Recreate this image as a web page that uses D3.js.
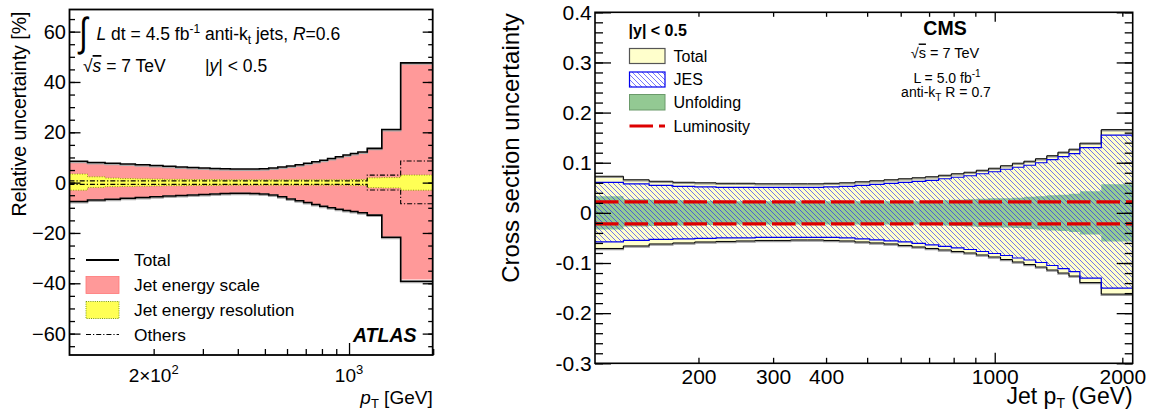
<!DOCTYPE html>
<html><head><meta charset="utf-8">
<script src="https://cdn.jsdelivr.net/npm/d3@7"></script>
<style>
body{margin:0;background:#fff}
text{font-family:"Liberation Sans",Arial,Helvetica,sans-serif;fill:#000}
</style>
</head><body>
<svg id="c" width="1150" height="412"></svg>
<script>
// ---------------- ATLAS (left) data ----------------
const atlasEdges = [100,116,134,152,172,194,216,240,264,290,318,346,376,408,442,478,516,556,598,642,688,736,786,838,894,952,1012,1076,1162,1310,1530,1992];
const atlasTotalUp   = [8.5,8.0,7.7,7.4,7.1,6.8,6.5,6.2,6.0,5.8, 5.6,5.5,5.4,5.4,5.4,5.5,5.8,6.2,6.6,7.1, 7.7,8.3,8.9,9.6,10.3,11.0,11.6,12.2,13.6,21.1, 47.6];
const atlasTotalDown = [-7.5,-6.9,-6.6,-6.2,-5.9,-5.6,-5.3,-5.1,-4.9,-4.7, -4.5,-4.3,-4.2,-4.2,-4.3,-4.5,-4.9,-5.6,-6.5,-7.2, -7.9,-8.7,-9.4,-10.0,-10.6,-11.1,-11.5,-12.0,-12.9,-21.7, -39.2];
const atlasJesUp     = [8.3,7.8,7.5,7.2,6.9,6.6,6.3,6.0,5.8,5.6, 5.4,5.3,5.2,5.2,5.2,5.3,5.6,6.0,6.4,6.9, 7.5,8.1,8.7,9.4,10.1,10.8,11.4,12.0,13.4,20.9, 47.1];
const atlasJesDown   = [-7.3,-6.7,-6.4,-6.0,-5.7,-5.4,-5.1,-4.9,-4.7,-4.5, -4.3,-4.1,-4.0,-4.0,-4.1,-4.3,-4.7,-5.4,-6.3,-7.0, -7.7,-8.5,-9.2,-9.8,-10.4,-10.9,-11.3,-11.8,-12.7,-21.5, -38.5];
const atlasJerUp     = [3.4,2.3,1.8,1.6,1.5,1.4,1.3,1.3,1.2,1.2, 1.2,1.1,1.1,1.1,1.1,1.1,1.1,1.1,1.1,1.1, 1.1,1.1,1.1,1.1,1.1,1.1,1.2,1.2,1.9,2.0, 3.0];
const atlasJerDown   = [-3.0,-1.9,-1.6,-1.5,-1.4,-1.3,-1.2,-1.2,-1.1,-1.1, -1.1,-1.0,-1.0,-1.0,-1.0,-1.0,-1.0,-1.0,-1.0,-1.0, -1.0,-1.0,-1.0,-1.0,-1.0,-1.0,-1.1,-1.1,-2.0,-2.1, -3.0];
const atlasOthUp     = [0.7,0.7,0.7,0.7,0.7,0.7,0.7,0.7,0.7,0.7, 0.7,0.7,0.7,0.7,0.7,0.7,0.7,0.7,0.7,0.7, 0.7,0.7,0.7,0.7,0.7,0.7,0.7,0.7,3.0,3.0, 8.6];
const atlasOthDown   = [-0.7,-0.7,-0.7,-0.7,-0.7,-0.7,-0.7,-0.7,-0.7,-0.7, -0.7,-0.7,-0.7,-0.7,-0.7,-0.7,-0.7,-0.7,-0.7,-0.7, -0.7,-0.7,-0.7,-0.7,-0.7,-0.7,-0.7,-0.7,-2.9,-2.9, -8.4];
const atlasYMajor = [-60,-40,-20,0,20,40,60];
const atlasXMinor = [200,300,400,500,600,700,800,900,2000];
const atlasXMajor = [1000];

// ---------------- CMS (right) data ----------------
const cmsEdges = [114,133,153,174,196,220,245,272,300,330,362,395,430,468,507,548,592,638,686,737,790,846,905,967,1032,1101,1172,1248,1327,1410,1497,1588,1784,2116];
const cmsTotalUp   = [0.073,0.066,0.063,0.061,0.060,0.059,0.059,0.058,0.058,0.058, 0.058,0.059,0.060,0.062,0.064,0.066,0.068,0.070,0.072,0.075, 0.078,0.081,0.085,0.089,0.094,0.099,0.103,0.108,0.114,0.121, 0.127,0.139,0.166];
const cmsTotalDown = [-0.071,-0.066,-0.062,-0.060,-0.058,-0.057,-0.056,-0.055,-0.055,-0.054, -0.054,-0.055,-0.056,-0.058,-0.060,-0.062,-0.065,-0.068,-0.071,-0.074, -0.077,-0.080,-0.084,-0.088,-0.093,-0.098,-0.103,-0.108,-0.114,-0.120, -0.126,-0.139,-0.162];
const cmsJesUp     = [0.061,0.058,0.055,0.053,0.052,0.051,0.051,0.051,0.051,0.051, 0.051,0.052,0.053,0.055,0.057,0.059,0.061,0.063,0.065,0.068, 0.071,0.074,0.078,0.082,0.087,0.091,0.095,0.100,0.106,0.112, 0.118,0.130,0.155];
const cmsJesDown   = [-0.058,-0.055,-0.053,-0.052,-0.051,-0.050,-0.050,-0.049,-0.049,-0.049, -0.049,-0.049,-0.050,-0.052,-0.054,-0.056,-0.058,-0.061,-0.064,-0.067, -0.070,-0.073,-0.077,-0.081,-0.085,-0.090,-0.094,-0.099,-0.105,-0.111, -0.117,-0.130,-0.150];
const cmsUnfold    = [0.033,0.027,0.026,0.025,0.024,0.024,0.023,0.023,0.023,0.023, 0.023,0.023,0.023,0.023,0.023,0.023,0.023,0.023,0.024,0.025, 0.026,0.027,0.028,0.029,0.029,0.030,0.032,0.033,0.035,0.036, 0.038,0.043,0.057];
const cmsLumi = 0.022;
const cmsYMajor = [-0.3,-0.2,-0.1,0,0.1,0.2,0.3,0.4];
const cmsYLabels = ["-0.3","-0.2","-0.1","0","0.1","0.2","0.3","0.4"];
const cmsXMinor = [200,300,400,500,600,700,800,900,2000];
const cmsXMajor = [1000];
const cmsXLabels = [200,300,400,1000,2000];

// ---------------- helpers ----------------
const svg = d3.select("#c");
const defs = svg.append("defs");
function histPts(edges, vals){ const p = vals.map((v,i)=>[edges[i], v]); p.push([edges[edges.length-1], vals[vals.length-1]]); return p; }
function bandPts(edges, lo, hi){ const p = lo.map((v,i)=>[edges[i], v, hi[i]]); p.push([edges[edges.length-1], lo[lo.length-1], hi[hi.length-1]]); return p; }
function range(a,b,s){ const r=[]; for(let v=a; v<=b+1e-9; v+=s) r.push(+v.toFixed(6)); return r; }

// ================= ATLAS =================
(function(){
  const L=69.5, R=432.7, T=9.5, B=355;
  const x = d3.scaleLog().domain([100,1992]).range([L,R]);
  const y = d3.scaleLinear().domain([-68.5,68.8]).range([B,T]);
  defs.append("clipPath").attr("id","clipA").append("rect").attr("x",L).attr("y",T).attr("width",R-L).attr("height",B-T);
  const g = svg.append("g").attr("clip-path","url(#clipA)");
  const area = d3.area().x(d=>x(d[0])).y0(d=>y(d[1])).y1(d=>y(d[2])).curve(d3.curveStepAfter);
  const line = d3.line().x(d=>x(d[0])).y(d=>y(d[1])).curve(d3.curveStepAfter);

  g.append("path").attr("d", area(bandPts(atlasEdges, atlasJesDown, atlasJesUp))).attr("fill","#ff9999");
  [atlasTotalUp, atlasTotalDown].forEach(a=>{
    g.append("path").attr("d", line(histPts(atlasEdges,a))).attr("fill","none").attr("stroke","#aaa").attr("stroke-width",1.5).attr("transform","translate(0,1.2)");
    g.append("path").attr("d", line(histPts(atlasEdges,a))).attr("fill","none").attr("stroke","#000").attr("stroke-width",1.6);
  });
  g.append("path").attr("d", area(bandPts(atlasEdges, atlasJerDown, atlasJerUp))).attr("fill","#ffff55").attr("stroke","#8c9a10").attr("stroke-width",1).attr("stroke-dasharray","1,1.5");
  [atlasOthUp, atlasOthDown].forEach(a=>{
    g.append("path").attr("d", line(histPts(atlasEdges,a))).attr("fill","none").attr("stroke","#000").attr("stroke-width",1.1).attr("stroke-dasharray","5,2,1.2,2");
  });

  // axes
  const ax = svg.append("g").attr("class","axA");
  ax.append("g").attr("transform",`translate(${L},0)`).call(d3.axisLeft(y).tickValues(range(-65,65,5)).tickSize(-5.5).tickFormat(""));
  ax.append("g").attr("transform",`translate(${L},0)`).call(d3.axisLeft(y).tickValues(atlasYMajor).tickSize(-11).tickPadding(3.5).tickFormat(d=>d3.format("d")(d)));
  ax.append("g").attr("transform",`translate(${R},0)`).call(d3.axisRight(y).tickValues(range(-65,65,5)).tickSize(-4.5).tickFormat(""));
  ax.append("g").attr("transform",`translate(${R},0)`).call(d3.axisRight(y).tickValues(atlasYMajor).tickSize(-10).tickFormat(""));
  ax.append("g").attr("transform",`translate(0,${B})`).call(d3.axisBottom(x).tickValues(atlasXMinor).tickSize(-6).tickFormat(""));
  ax.append("g").attr("transform",`translate(0,${B})`).call(d3.axisBottom(x).tickValues(atlasXMajor).tickSize(-12).tickFormat(""));
  ax.selectAll(".domain").remove();
  ax.selectAll("line").attr("stroke","#000").attr("stroke-width",1.3);
  ax.selectAll("text").attr("font-size",20).style("font-family","Liberation Sans, Arial, sans-serif");
  svg.append("rect").attr("x",L).attr("y",T).attr("width",R-L).attr("height",B-T).attr("fill","none").attr("stroke","#000").attr("stroke-width",1.8);

  // x labels
  const t1 = svg.append("text").attr("x",x(200)).attr("y",382).attr("text-anchor","middle").attr("font-size",19);
  t1.append("tspan").text("2×10");
  t1.append("tspan").attr("dy",-8).attr("font-size",13).text("2");
  const t2 = svg.append("text").attr("x",x(1000)).attr("y",382).attr("text-anchor","middle").attr("font-size",19);
  t2.append("tspan").text("10");
  t2.append("tspan").attr("dy",-8).attr("font-size",13).text("3");
  const xt = svg.append("text").attr("x",R).attr("y",403.5).attr("text-anchor","end").attr("font-size",19);
  xt.append("tspan").attr("font-style","italic").text("p");
  xt.append("tspan").attr("dy",4.5).attr("font-size",13).text("T");
  xt.append("tspan").attr("dy",-4.5).text(" [GeV]");
  svg.append("text").attr("transform","translate(25.5,114) rotate(-90)").attr("text-anchor","middle").attr("font-size",19.5).text("Relative uncertainty [%]");

  // top-left annotations
  svg.append("text").attr("transform","translate(79,46) scale(1,1.3)").attr("font-size",31).text("∫");
  const a1 = svg.append("text").attr("x",96.5).attr("y",39.5).attr("font-size",17.5);
  a1.append("tspan").attr("font-style","italic").text("L");
  a1.append("tspan").text(" dt = 4.5 fb");
  a1.append("tspan").attr("dy",-7).attr("font-size",12).text("-1");
  a1.append("tspan").attr("dy",7).text("  anti-k");
  a1.append("tspan").attr("dy",4).attr("font-size",12).text("t");
  a1.append("tspan").attr("dy",-4).text(" jets, ");
  a1.append("tspan").attr("font-style","italic").text("R");
  a1.append("tspan").text("=0.6");
  const a2 = svg.append("text").attr("x",83).attr("y",72).attr("font-size",17.5);
  a2.append("tspan").text("√");
  a2.append("tspan").attr("font-style","italic").attr("text-decoration","overline").text("s");
  a2.append("tspan").text(" = 7 TeV");
  const a3 = svg.append("text").attr("x",205).attr("y",72).attr("font-size",17.5);
  a3.append("tspan").text("|");
  a3.append("tspan").attr("font-style","italic").text("y");
  a3.append("tspan").text("| < 0.5");
  svg.append("text").attr("x",416.5).attr("y",341.7).attr("text-anchor","end").attr("font-size",19.5).attr("font-weight","bold").attr("font-style","italic").text("ATLAS");

  // legend
  const lx0=86, lx1=119, tx=134;
  svg.append("line").attr("x1",lx0).attr("x2",lx1).attr("y1",260).attr("y2",260).attr("stroke","#000").attr("stroke-width",1.8);
  svg.append("text").attr("x",tx).attr("y",266).attr("font-size",17.3).text("Total");
  svg.append("rect").attr("x",lx0).attr("y",276.5).attr("width",lx1-lx0).attr("height",17).attr("fill","#ff9999").attr("stroke","#ff7777").attr("stroke-width",0.8);
  svg.append("text").attr("x",tx).attr("y",290.5).attr("font-size",17.3).text("Jet energy scale");
  svg.append("rect").attr("x",lx0).attr("y",301.5).attr("width",lx1-lx0).attr("height",17).attr("fill","#ffff55").attr("stroke","#7a9a10").attr("stroke-width",1).attr("stroke-dasharray","1,1.2");
  svg.append("text").attr("x",tx).attr("y",315.5).attr("font-size",17.3).text("Jet energy resolution");
  svg.append("line").attr("x1",lx0).attr("x2",lx1).attr("y1",334.5).attr("y2",334.5).attr("stroke","#000").attr("stroke-width",1.2).attr("stroke-dasharray","5,2,1.2,2");
  svg.append("text").attr("x",tx).attr("y",340.5).attr("font-size",17.3).text("Others");
})();

// ================= CMS =================
(function(){
  const L=595, R=1132.7, T=12.3, B=363.3;
  const x = d3.scaleLog().domain([114,2116]).range([L,R]);
  const y = d3.scaleLinear().domain([-0.3,0.4]).range([B,T]);
  defs.append("clipPath").attr("id","clipB").append("rect").attr("x",L).attr("y",T).attr("width",R-L).attr("height",B-T);
  const pat = defs.append("pattern").attr("id","hatch").attr("patternUnits","userSpaceOnUse").attr("width",5).attr("height",5);
  pat.append("path").attr("d","M0,0 L5,5 M-1,4 L1,6 M4,-1 L6,1").attr("stroke","#1a1aff").attr("stroke-width",0.6);
  const g = svg.append("g").attr("clip-path","url(#clipB)");
  const area = d3.area().x(d=>x(d[0])).y0(d=>y(d[1])).y1(d=>y(d[2])).curve(d3.curveStepAfter);
  const line = d3.line().x(d=>x(d[0])).y(d=>y(d[1])).curve(d3.curveStepAfter);

  g.append("path").attr("d", area(bandPts(cmsEdges, cmsTotalDown, cmsTotalUp))).attr("fill","#ffffcc");
  g.append("path").attr("d", area(bandPts(cmsEdges, cmsUnfold.map(v=>-v), cmsUnfold))).attr("fill","#93c993");
  g.append("path").attr("d", area(bandPts(cmsEdges, cmsJesDown, cmsJesUp))).attr("fill","url(#hatch)");
  [cmsTotalUp, cmsTotalDown].forEach(a=>{
    g.append("path").attr("d", line(histPts(cmsEdges,a))).attr("fill","none").attr("stroke","#999").attr("stroke-width",1.4).attr("transform","translate(0,1.1)");
    g.append("path").attr("d", line(histPts(cmsEdges,a))).attr("fill","none").attr("stroke","#000").attr("stroke-width",1);
  });
  [cmsJesUp, cmsJesDown].forEach(a=>{
    g.append("path").attr("d", line(histPts(cmsEdges,a))).attr("fill","none").attr("stroke","#0000ee").attr("stroke-width",1.2);
  });
  [cmsLumi, -cmsLumi].forEach(v=>{
    g.append("line").attr("x1",x(cmsEdges[0])).attr("x2",x(cmsEdges[cmsEdges.length-1])).attr("y1",y(v)).attr("y2",y(v))
      .attr("stroke","#dd0000").attr("stroke-width",3.2).attr("stroke-dasharray","23.5,6");
  });

  const ax = svg.append("g");
  const ym = range(-0.3,0.4,0.02);
  ax.append("g").attr("transform",`translate(${L},0)`).call(d3.axisLeft(y).tickValues(ym).tickSize(-8).tickFormat(""));
  ax.append("g").attr("transform",`translate(${L},0)`).call(d3.axisLeft(y).tickValues(cmsYMajor).tickSize(-16).tickPadding(3.3).tickFormat((d,i)=>cmsYLabels[i]));
  ax.append("g").attr("transform",`translate(${R},0)`).call(d3.axisRight(y).tickValues(ym).tickSize(-8).tickFormat(""));
  ax.append("g").attr("transform",`translate(${R},0)`).call(d3.axisRight(y).tickValues(cmsYMajor).tickSize(-16).tickFormat(""));
  ax.append("g").attr("transform",`translate(0,${B})`).call(d3.axisBottom(x).tickValues(cmsXMinor).tickSize(-5.5).tickFormat(""));
  ax.append("g").attr("transform",`translate(0,${B})`).call(d3.axisBottom(x).tickValues(cmsXMajor).tickSize(-10.5).tickFormat(""));
  ax.append("g").attr("transform",`translate(0,${B})`).call(d3.axisBottom(x).tickValues(cmsXLabels).tickSize(0).tickPadding(6).tickFormat(d3.format("d")));
  ax.append("g").attr("transform",`translate(0,${T})`).call(d3.axisTop(x).tickValues(cmsXMinor).tickSize(-4.5).tickFormat(""));
  ax.append("g").attr("transform",`translate(0,${T})`).call(d3.axisTop(x).tickValues(cmsXMajor).tickSize(-9.5).tickFormat(""));
  ax.selectAll(".domain").remove();
  ax.selectAll("line").attr("stroke","#000").attr("stroke-width",1.3);
  ax.selectAll("text").attr("font-size",21).style("font-family","Liberation Sans, Arial, sans-serif");
  svg.append("rect").attr("x",L).attr("y",T).attr("width",R-L).attr("height",B-T).attr("fill","none").attr("stroke","#000").attr("stroke-width",1.6);

  const xt = svg.append("text").attr("x",R).attr("y",403.5).attr("text-anchor","end").attr("font-size",23);
  xt.append("tspan").text("Jet p");
  xt.append("tspan").attr("dy",4.5).attr("font-size",14).text("T");
  xt.append("tspan").attr("dy",-4.5).text(" (GeV)");
  svg.append("text").attr("transform","translate(519,148) rotate(-90)").attr("text-anchor","middle").attr("font-size",24).text("Cross section uncertainty");

  // legend
  svg.append("text").attr("x",628.5).attr("y",35.7).attr("font-size",16).attr("font-weight","bold").text("|y| < 0.5");
  const bx=629.5, bw=35.5, tx=673.5;
  svg.append("rect").attr("x",bx).attr("y",48.5).attr("width",bw).attr("height",15).attr("fill","#ffffcc").attr("stroke","#555").attr("stroke-width",1.2);
  svg.append("text").attr("x",tx).attr("y",61.5).attr("font-size",16).text("Total");
  svg.append("rect").attr("x",bx).attr("y",72).attr("width",bw).attr("height",15).attr("fill","#fff").attr("stroke","none");
  svg.append("rect").attr("x",bx).attr("y",72).attr("width",bw).attr("height",15).attr("fill","url(#hatch)").attr("stroke","#0000ee").attr("stroke-width",1.2);
  svg.append("text").attr("x",tx).attr("y",85).attr("font-size",16).text("JES");
  svg.append("rect").attr("x",bx).attr("y",94.5).attr("width",bw).attr("height",15.5).attr("fill","#93c993").attr("stroke","#6a9a6a").attr("stroke-width",1);
  svg.append("text").attr("x",tx).attr("y",107.5).attr("font-size",16).text("Unfolding");
  svg.append("line").attr("x1",bx).attr("x2",bx+bw).attr("y1",126).attr("y2",126).attr("stroke","#dd0000").attr("stroke-width",3.2).attr("stroke-dasharray","23.5,6");
  svg.append("text").attr("x",tx).attr("y",131.5).attr("font-size",16).text("Luminosity");

  // CMS labels
  const cx = 945;
  svg.append("text").attr("x",cx).attr("y",35).attr("text-anchor","middle").attr("font-size",19.5).attr("font-weight","bold").text("CMS");
  const s1 = svg.append("text").attr("x",cx).attr("y",57.5).attr("text-anchor","middle").attr("font-size",14.5);
  s1.append("tspan").text("√");
  s1.append("tspan").attr("text-decoration","overline").text("s");
  s1.append("tspan").text(" = 7 TeV");
  const s2 = svg.append("text").attr("x",cx+2).attr("y",82.5).attr("text-anchor","middle").attr("font-size",14);
  s2.append("tspan").text("L = 5.0 fb");
  s2.append("tspan").attr("dy",-6).attr("font-size",10).text("-1");
  const s3 = svg.append("text").attr("x",cx+1).attr("y",97).attr("text-anchor","middle").attr("font-size",14);
  s3.append("tspan").text("anti-k");
  s3.append("tspan").attr("dy",4).attr("font-size",10).text("T");
  s3.append("tspan").attr("dy",-4).text(" R = 0.7");
})();
</script>
</body></html>
